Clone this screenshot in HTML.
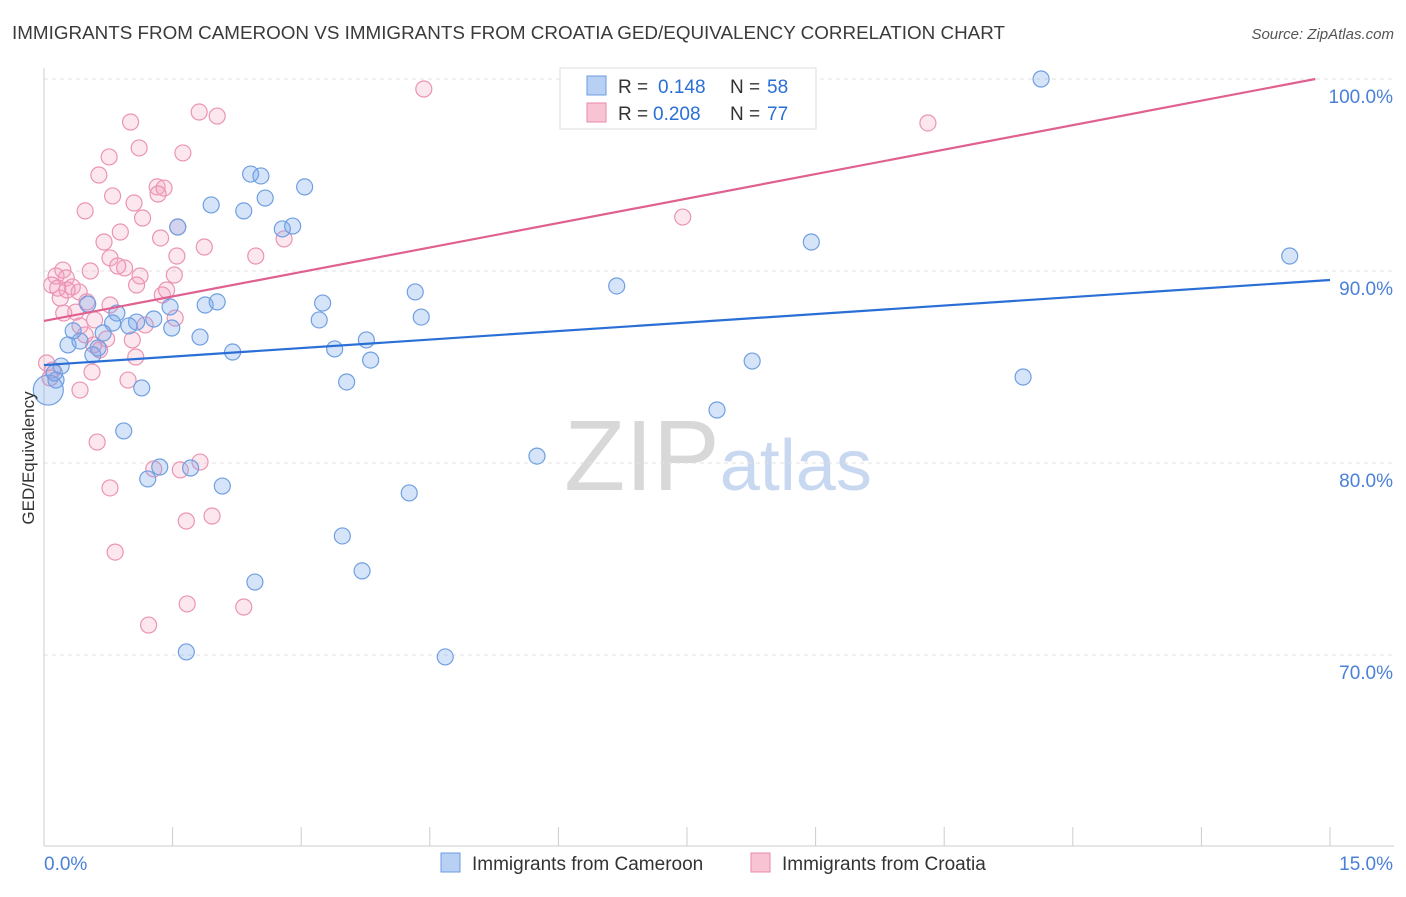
<!DOCTYPE html>
<html><head><meta charset="utf-8"><style>
body{margin:0;background:#fff;font-family:"Liberation Sans",sans-serif;}
svg text{font-family:"Liberation Sans",sans-serif;}
</style></head><body>
<svg id="chart" width="1406" height="892" xmlns="http://www.w3.org/2000/svg">
<text x="12" y="39" font-size="18" fill="#3a3a3a" textLength="993" lengthAdjust="spacingAndGlyphs">IMMIGRANTS FROM CAMEROON VS IMMIGRANTS FROM CROATIA GED/EQUIVALENCY CORRELATION CHART</text>
<text x="1394" y="39" font-size="15" fill="#555" text-anchor="end" font-style="italic">Source: ZipAtlas.com</text>
<text x="718" y="490" font-size="100" text-anchor="middle" fill="#d8d8d8" font-family="Liberation Serif"><tspan>ZIP</tspan><tspan fill="#c8d8f0" font-family="Liberation Sans" font-size="72">atlas</tspan></text>
<g id="grid"></g><g id="axes"></g><g id="pts"></g><g id="lines"></g>
<text transform="translate(34,458) rotate(-90)" font-size="17" fill="#333" text-anchor="middle">GED/Equivalency</text>
<g>
<rect x="560" y="68" width="256" height="61" fill="#fff" stroke="#ddd"/>
<rect x="587" y="76" width="19" height="19" fill="#b8d0f4" stroke="#6a9be0"/>
<rect x="587" y="103" width="19" height="19" fill="#f8c4d4" stroke="#e88aaa"/>
<text x="618" y="93" font-size="19" fill="#333">R =</text>
<text x="658" y="93" font-size="19" fill="#2a6fd6">0.148</text>
<text x="730" y="93" font-size="19" fill="#333">N =</text>
<text x="767" y="93" font-size="19" fill="#2a6fd6">58</text>
<text x="618" y="120" font-size="19" fill="#333">R =</text>
<text x="653" y="120" font-size="19" fill="#2a6fd6">0.208</text>
<text x="730" y="120" font-size="19" fill="#333">N =</text>
<text x="767" y="120" font-size="19" fill="#2a6fd6">77</text>
</g>
<g>
<rect x="441" y="853" width="19" height="19" fill="#b8d0f4" stroke="#6a9be0"/>
<text x="472" y="870" font-size="19" fill="#333">Immigrants from Cameroon</text>
<rect x="751" y="853" width="19" height="19" fill="#f8c4d4" stroke="#e88aaa"/>
<text x="782" y="870" font-size="19" fill="#333">Immigrants from Croatia</text>
</g>
</svg>
<script>
const yTicks=[100,90,80,70];
const yTickLabels=["100.0%","90.0%","80.0%","70.0%"];
const xTickLabels=["0.0%","15.0%"];
const blueX=[11.63,14.53,8.95,6.68,11.42,8.26,7.85,5.75,4.68,4.26,3.71,3.48,2.46,1.66,2.08,1.71,1.35,1.21,0.93,1.14,2.20,1.82,1.49,1.47,1.28,1.08,0.85,0.99,0.80,0.69,0.63,0.57,0.51,0.42,0.34,0.28,0.20,0.14,0.05,0.12,1.95,2.33,2.58,2.41,2.53,3.04,2.90,2.78,1.56,1.88,2.02,3.21,3.25,3.39,3.53,3.76,3.81,4.33,4.40];
const blueY=[100.0,90.78,91.51,89.22,84.48,85.31,82.76,80.36,69.90,78.44,74.38,76.20,73.80,70.16,78.80,79.74,79.79,79.17,81.67,83.91,85.78,86.56,87.03,88.13,87.50,87.34,87.81,87.14,87.29,86.77,85.99,85.63,88.28,86.35,86.88,86.15,85.05,84.32,83.80,84.69,93.44,93.13,93.80,95.05,94.95,94.38,92.34,92.19,92.29,88.23,88.39,87.45,88.33,85.94,84.22,86.41,85.36,88.91,87.60];
const pinkX=[4.43,10.31,7.45,1.81,2.02,1.01,1.11,0.76,1.62,0.64,0.80,1.05,0.48,1.15,1.32,1.40,1.33,1.56,1.36,0.70,0.89,1.87,2.47,2.80,1.55,0.77,0.94,1.12,1.52,0.54,0.22,0.14,0.26,0.09,0.33,0.41,0.19,0.50,1.08,1.38,1.43,0.37,0.23,0.59,0.42,1.18,1.53,0.48,1.03,0.73,0.58,0.65,1.07,0.03,0.10,0.56,0.98,0.42,0.62,1.28,1.59,1.82,0.77,1.66,1.96,0.83,1.67,2.33,1.22,0.07,0.27,0.16,0.77,0.86];
const pinkY=[99.48,97.71,92.81,98.28,98.07,97.76,96.41,95.94,96.15,95.00,93.91,93.54,93.13,92.76,94.38,94.32,94.01,92.29,91.72,91.51,92.03,91.25,90.78,91.67,90.78,90.68,90.16,89.74,89.79,90.00,90.05,89.74,89.64,89.27,89.17,88.91,88.59,88.39,89.27,88.75,89.01,87.86,87.81,87.45,87.14,87.19,87.55,86.67,86.41,86.46,86.15,85.89,85.52,85.21,84.84,84.74,84.32,83.80,81.09,79.69,79.64,80.05,78.70,76.98,77.24,75.36,72.66,72.50,71.56,84.43,89.01,89.11,88.23,90.26];
const blueTrend=[85.10,89.53];
const pinkTrend=[87.40,0.8497];
const NS="http://www.w3.org/2000/svg";
const X0=44,X1=1330,Y100=79,PXPER=19.2;
const sx=v=>X0+v/15*(X1-X0);
const sy=v=>Y100+(100-v)*PXPER;
function mk(tag,attrs,parent){const e=document.createElementNS(NS,tag);for(const k in attrs)e.setAttribute(k,attrs[k]);parent.appendChild(e);return e;}
const grid=document.getElementById('grid'),axes=document.getElementById('axes'),pts=document.getElementById('pts'),lines=document.getElementById('lines');
yTicks.forEach((t,i)=>{
 const l=mk('line',{x1:X0,x2:1394,y1:sy(t),y2:sy(t),stroke:'#e2e2e2','stroke-dasharray':'4,4'},grid);
 
 
 const tx=mk('text',{x:1393,y:sy(t)+24,'font-size':19,fill:'#4a80d8','text-anchor':'end'},axes);
 tx.textContent=yTickLabels[i];
 
 
});
const ax=mk('line',{x1:X0,x2:1394,y1:846,y2:846,stroke:'#ccc'},axes);


const ay=mk('line',{x1:X0,x2:X0,y1:68,y2:846,stroke:'#ccc'},axes);


for(let i=0;i<=10;i++){
 const t=mk('line',{x1:sx(i*1.5),x2:sx(i*1.5),y1:827,y2:846,stroke:'#ccc'},axes);
 
 
}
const xl0=mk('text',{x:44,y:870,'font-size':19,fill:'#4a80d8'},axes);xl0.textContent=xTickLabels[0];


const xl1=mk('text',{x:1393,y:870,'font-size':19,fill:'#4a80d8','text-anchor':'end'},axes);xl1.textContent=xTickLabels[1];


pinkX.forEach((x,i)=>{
 const c=mk('circle',{cx:sx(x),cy:sy(pinkY[i]),r:8,fill:'rgba(244,160,190,0.25)',stroke:'#eb94b2','stroke-width':1.2},pts);
 
 
});
blueX.forEach((x,i)=>{
 const c=mk('circle',{cx:sx(x),cy:sy(blueY[i]),r:i==38?15:8,fill:'rgba(120,165,235,0.3)',stroke:'#6f9fe0','stroke-width':1.2},pts);
 
 
});
const bl=mk('line',{x1:sx(0),y1:sy(blueTrend[0]),x2:sx(15),y2:sy(blueTrend[1]),stroke:'#2a6fd6','stroke-width':2.2},lines);


const pEnd=Math.min(15,(100-pinkTrend[0])/pinkTrend[1]);
const pl=mk('line',{x1:sx(0),y1:sy(pinkTrend[0]),x2:sx(pEnd),y2:sy(pinkTrend[0]+pinkTrend[1]*pEnd),stroke:'#e0608f','stroke-width':2.2},lines);


</script>
</body></html>
